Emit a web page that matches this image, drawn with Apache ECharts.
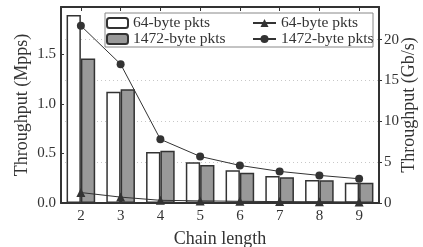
<!DOCTYPE html>
<html>
<head>
<meta charset="utf-8">
<script src="https://cdn.jsdelivr.net/npm/echarts@6/dist/echarts.min.js"></script>
<style>
  html, body { margin: 0; padding: 0; background: #fff; }
  #main { width: 423px; height: 247px; }
</style>
</head>
<body>
<div id="main"></div>
<script>
  // chain length on the x axis
  var categories = ['2', '3', '4', '5', '6', '7', '8', '9'];
  // bars, left axis (Mpps)
  var mpps64 = [1.90, 1.124, 0.515, 0.411, 0.33, 0.273, 0.232, 0.205];
  var mpps1472 = [1.46, 1.15, 0.528, 0.384, 0.306, 0.26, 0.229, 0.205];
  // lines, right axis (Gb/s)
  var gbps64 = [1.28, 0.72, 0.33, 0.26, 0.21, 0.17, 0.15, 0.13];
  var gbps1472 = [21.7, 17.0, 7.8, 5.7, 4.6, 3.87, 3.38, 2.97];
  var leftTicks = ['0.0', '0.5', '1.0', '1.5'];
  var rightTicks = ['0', '5', '10', '15', '20'];

  var legendText = {
    bar64: '64-byte pkts',
    bar1472: '1472-byte pkts',
    line64: '64-byte pkts',
    line1472: '1472-byte pkts'
  };

  var font = 'Liberation Serif';
  var ink = '#333';

  var chart = echarts.init(document.getElementById('main'));

  var option = {
    animation: false,
    textStyle: { fontFamily: font, color: ink },
    grid: { left: 61, right: 44, top: 7, bottom: 44, outerBoundsMode: 'none', containLabel: false },
    graphic: [{
      type: 'rect',
      shape: { x: 105, y: 13, width: 268, height: 34 },
      style: { fill: '#fff', stroke: '#888', lineWidth: 1 },
      z: 50
    }],
    legend: [{
      data: ['bar64', 'bar1472'],
      orient: 'vertical',
      left: 106,
      top: 15,
      padding: 0,
      itemWidth: 21,
      itemHeight: 10,
      itemGap: 0,
      formatter: function (n) { return legendText[n]; },
      textStyle: { fontFamily: font, fontSize: 15.5, color: ink, lineHeight: 15 },
      z: 60
    }, {
      data: ['line64', 'line1472'],
      orient: 'vertical',
      left: 252,
      top: 15,
      padding: 0,
      itemWidth: 23,
      itemHeight: 10,
      itemGap: 0,
      formatter: function (n) { return legendText[n]; },
      textStyle: { fontFamily: font, fontSize: 15.5, color: ink, lineHeight: 15 },
      z: 60
    }],
    xAxis: [{
      type: 'category',
      data: categories,
      position: 'bottom',
      name: 'Chain length',
      nameLocation: 'middle',
      nameGap: 27,
      nameMoveOverlap: false,
      nameTextStyle: { fontFamily: font, fontSize: 18, color: ink },
      axisLine: { onZero: false, lineStyle: { color: ink, width: 2 } },
      axisTick: { show: true, inside: true, alignWithLabel: true, length: 3, lineStyle: { color: ink } },
      axisLabel: { fontFamily: font, fontSize: 15, color: ink, margin: 6 }
    }, {
      type: 'category',
      data: categories,
      position: 'top',
      axisLine: { onZero: false, lineStyle: { color: ink, width: 2 } },
      axisTick: { show: true, inside: true, alignWithLabel: true, length: 4, lineStyle: { color: ink } },
      axisLabel: { show: false }
    }],
    yAxis: [{
      type: 'value',
      min: 0,
      max: 1.98,
      interval: 0.5,
      position: 'left',
      name: 'Throughput (Mpps)',
      nameLocation: 'middle',
      nameRotate: 90,
      nameGap: 30,
      nameMoveOverlap: false,
      nameTextStyle: { fontFamily: font, fontSize: 18, color: ink },
      axisLine: { show: true, onZero: false, lineStyle: { color: ink, width: 2 } },
      axisTick: { show: true, inside: true, length: 3, lineStyle: { color: ink } },
      axisLabel: {
        fontFamily: font, fontSize: 15, color: ink, margin: 5, showMaxLabel: false,
        formatter: function (v) {
          var i = Math.round(v / 0.5);
          return Math.abs(v - i * 0.5) < 1e-6 && leftTicks[i] ? leftTicks[i] : '';
        }
      },
      splitLine: { show: false }
    }, {
      type: 'value',
      min: 0,
      max: 24,
      interval: 5,
      position: 'right',
      name: 'Throughput (Gb/s)',
      nameLocation: 'middle',
      nameRotate: 90,
      nameGap: 21,
      nameMoveOverlap: false,
      nameTextStyle: { fontFamily: font, fontSize: 18, color: ink },
      axisLine: { show: true, onZero: false, lineStyle: { color: ink, width: 2 } },
      axisTick: { show: true, inside: false, length: 3, lineStyle: { color: ink } },
      axisLabel: {
        fontFamily: font, fontSize: 15, color: ink, margin: 5, showMaxLabel: false,
        formatter: function (v) {
          var i = Math.round(v / 5);
          return Math.abs(v - i * 5) < 1e-6 && rightTicks[i] ? rightTicks[i] : '';
        }
      },
      splitLine: { show: true, lineStyle: { color: '#c8c8c8', type: [1, 3], width: 1 } }
    }],
    series: [{
      name: 'bar64',
      type: 'bar',
      data: mpps64,
      barWidth: '36%',
      barGap: '0%',
      itemStyle: { color: '#fff', borderColor: ink, borderWidth: 1.5 }
    }, {
      name: 'bar1472',
      type: 'bar',
      data: mpps1472,
      barWidth: '36%',
      barGap: '0%',
      itemStyle: { color: '#999', borderColor: ink, borderWidth: 1.5 }
    }, {
      name: 'line64',
      type: 'line',
      yAxisIndex: 1,
      data: gbps64,
      symbol: 'triangle',
      symbolSize: 9,
      lineStyle: { color: ink, width: 1 },
      itemStyle: { color: ink },
      z: 10
    }, {
      name: 'line1472',
      type: 'line',
      yAxisIndex: 1,
      data: gbps1472,
      symbol: 'circle',
      symbolSize: 8,
      lineStyle: { color: ink, width: 1 },
      itemStyle: { color: ink },
      z: 10
    }]
  };

  chart.setOption(option);
</script>
</body>
</html>
